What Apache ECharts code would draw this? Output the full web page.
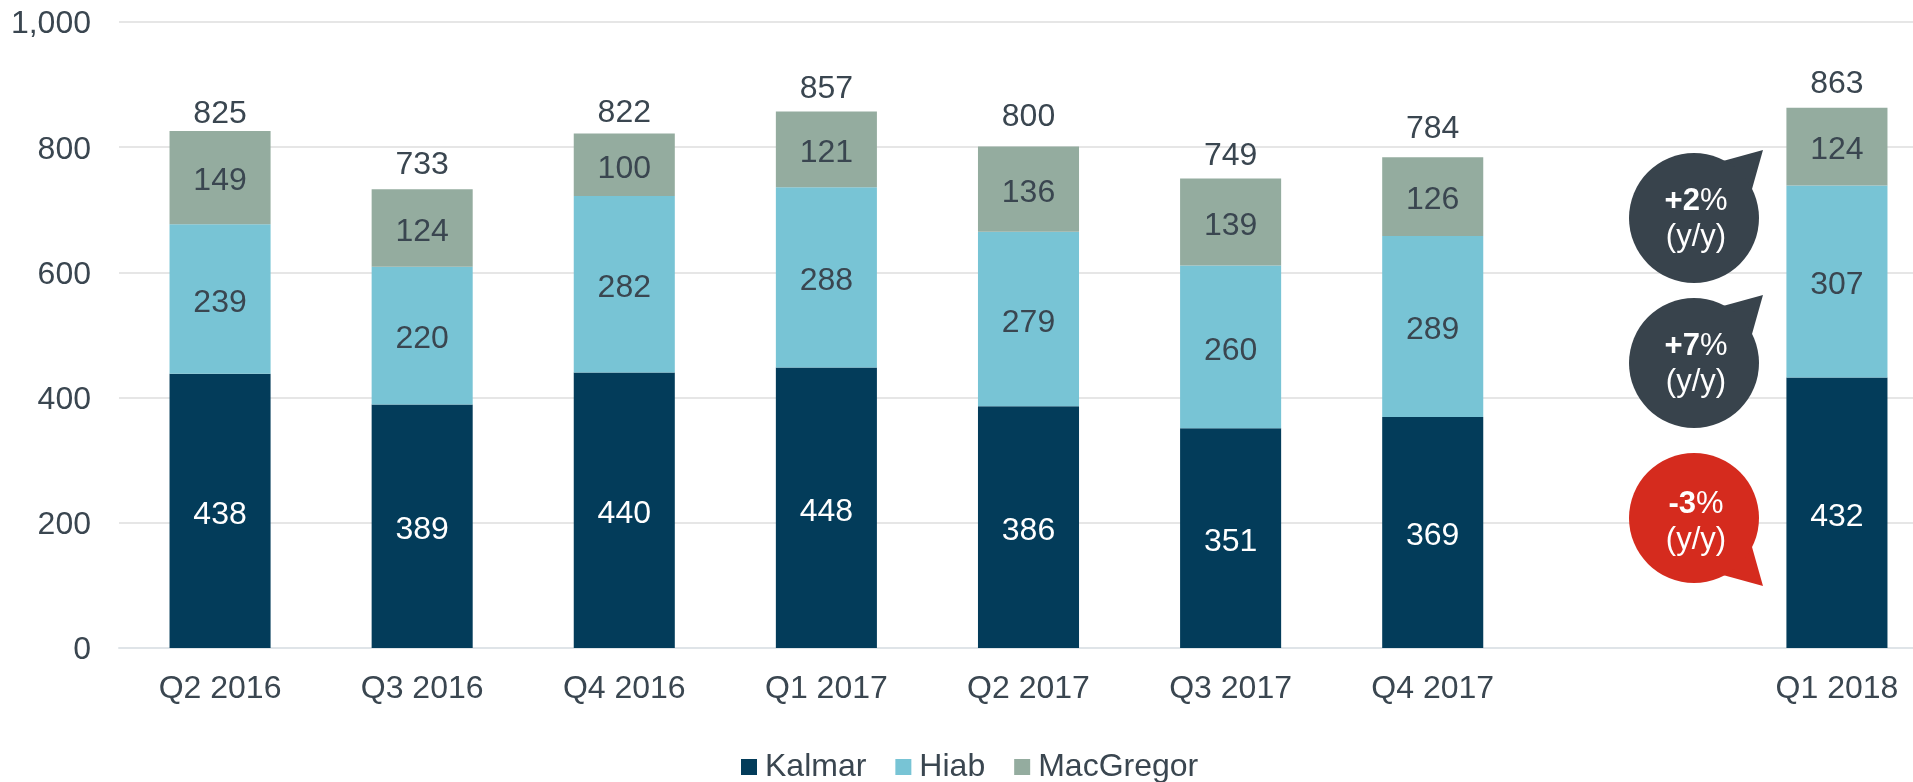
<!DOCTYPE html>
<html>
<head>
<meta charset="utf-8">
<script src="https://cdn.jsdelivr.net/npm/echarts@6/dist/echarts.min.js"></script>
<style>
html, body { margin: 0; padding: 0; background: #fff; overflow: hidden; }
#chart { width: 1913px; height: 782px; }
</style>
</head>
<body>
<div id="chart"></div>
<script>
// the empty category is the gap before Q1 2018
const categories = ['Q2 2016', 'Q3 2016', 'Q4 2016', 'Q1 2017', 'Q2 2017', 'Q3 2017', 'Q4 2017', '', 'Q1 2018'];
const kalmar = [438, 389, 440, 448, 386, 351, 369, null, 432];
const hiab = [239, 220, 282, 288, 279, 260, 289, null, 307];
const macgregor = [149, 124, 100, 121, 136, 139, 126, null, 124];
const totals = [825, 733, 822, 857, 800, 749, 784, null, 863];
const yTicks = [0, 200, 400, 600, 800, 1000];
const changes = ['+2', '+7', '-3'];

// total labels sit at uneven heights above the bars in the original slide
const totalGaps = [1, 7, 4, 6, 14, 6, 12, 0, 7];

const FONT = '"Liberation Sans", Arial, sans-serif';
const DARK = '#3a4650';

const chart = echarts.init(document.getElementById('chart'));

function barSeries(name, data, color, labelColor) {
  return {
    name: name,
    type: 'bar',
    stack: 'orders',
    data: data,
    barWidth: '50%',
    itemStyle: { color: color },
    label: {
      show: true,
      position: 'inside',
      offset: [0, 4],
      color: labelColor,
      fontFamily: FONT,
      fontSize: 32
    }
  };
}

// speech bubble next to the Q1 2018 bar
function bubble(change, cy, color, tailDown, textDy) {
  const s = tailDown ? -1 : 1;
  const cx = 1694;
  return {
    type: 'group',
    children: [
      {
        type: 'polygon',
        z: 100,
        shape: { points: [[cx + 29, cy - 57 * s], [cx + 69, cy - 68 * s], [cx + 58, cy - 29 * s], [cx, cy]] },
        style: { fill: color }
      },
      { type: 'circle', z: 100, shape: { cx: cx, cy: cy, r: 65 }, style: { fill: color } },
      {
        type: 'text',
        z: 101,
        x: cx + 2,
        y: cy + textDy,
        style: {
          text: '{b|' + change + '}{r|%}\n{r|(y/y)}',
          align: 'center',
          verticalAlign: 'middle',
          fill: '#fff',
          rich: {
            b: { fontFamily: FONT, fontSize: 31, fontWeight: 'bold', fill: '#fff', lineHeight: 36 },
            r: { fontFamily: FONT, fontSize: 31, fill: '#fff', lineHeight: 36 }
          }
        }
      }
    ]
  };
}

const option = {
  animation: false,
  backgroundColor: '#fff',
  textStyle: { fontFamily: FONT },
  // plot runs past the page edge, the last band is cut off in the original too
  grid: { left: 119, width: 1819, top: 22, height: 626, outerBoundsMode: 'none' },
  legend: {
    data: ['Kalmar', 'Hiab', 'MacGregor'],
    left: 741,
    top: 751,
    padding: 0,
    icon: 'rect',
    itemWidth: 16,
    itemHeight: 16,
    itemGap: 29,
    textStyle: { color: DARK, fontFamily: FONT, fontSize: 32, padding: [0, 0, 0, 3] }
  },
  xAxis: {
    type: 'category',
    data: categories,
    axisTick: { show: false },
    axisLine: { lineStyle: { color: '#dfe4e8', width: 2 } },
    axisLabel: { color: DARK, fontFamily: FONT, fontSize: 32, margin: 25, interval: 0 }
  },
  yAxis: {
    type: 'value',
    min: yTicks[0],
    max: yTicks[yTicks.length - 1],
    interval: 200,
    axisLine: { show: false },
    axisTick: { show: false },
    splitLine: { lineStyle: { color: '#e6e6e6', width: 2 } },
    axisLabel: {
      margin: 28,
      formatter: v => '{t|' + v.toLocaleString('en-US') + '}',
      rich: {
        t: { color: DARK, fontFamily: FONT, fontSize: 32, padding: [5, 0, 0, 0] }
      }
    }
  },
  series: [
    barSeries('Kalmar', kalmar, '#033c5a', '#fff'),
    barSeries('Hiab', hiab, '#78c4d5', DARK),
    barSeries('MacGregor', macgregor, '#94ac9f', DARK),
    {
      name: 'Total',
      type: 'line',
      data: totals.map((v, i) => ({ value: v, label: { distance: totalGaps[i] } })),
      symbol: 'circle',
      symbolSize: 1,
      itemStyle: { color: 'transparent' },
      lineStyle: { opacity: 0 },
      label: {
        show: true,
        position: 'top',
        color: DARK,
        fontFamily: FONT,
        fontSize: 32
      }
    }
  ],
  graphic: [
    bubble(changes[0], 218, '#38434c', false, 1),
    bubble(changes[1], 363, '#38434c', false, 1),
    bubble(changes[2], 518, '#d52b1e', true, 4)
  ]
};

chart.setOption(option);
</script>
</body>
</html>
